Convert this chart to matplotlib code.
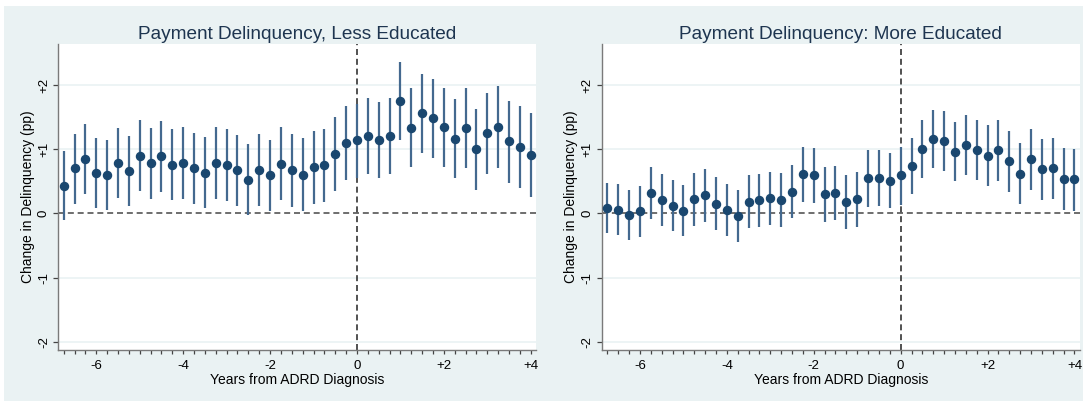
import numpy as np
import matplotlib
matplotlib.use("Agg")
import matplotlib.pyplot as plt
from matplotlib.patches import Rectangle

plt.rcParams["font.family"] = ["Liberation Sans", "DejaVu Sans"]

# event time in quarters relative to diagnosis
quarters = np.arange(-27, 17)
years = quarters / 4

less_est = [0.43, 0.70, 0.85, 0.63, 0.60, 0.78, 0.66, 0.90, 0.78, 0.89, 0.76,
            0.78, 0.70, 0.63, 0.79, 0.76, 0.67, 0.52, 0.67, 0.59, 0.77, 0.67,
            0.60, 0.72, 0.75, 0.92, 1.10, 1.14, 1.21, 1.14, 1.20, 1.75, 1.33,
            1.56, 1.48, 1.34, 1.16, 1.33, 1.00, 1.26, 1.35, 1.12, 1.04, 0.91]
less_lo = [-0.11, 0.15, 0.30, 0.09, 0.05, 0.24, 0.11, 0.35, 0.23, 0.33, 0.21,
           0.23, 0.15, 0.08, 0.23, 0.20, 0.11, -0.03, 0.11, 0.03, 0.21, 0.10,
           0.03, 0.15, 0.18, 0.35, 0.52, 0.55, 0.61, 0.55, 0.61, 1.14, 0.73,
           0.94, 0.86, 0.72, 0.55, 0.70, 0.37, 0.62, 0.71, 0.48, 0.39, 0.26]
less_hi = [0.97, 1.24, 1.40, 1.18, 1.15, 1.33, 1.21, 1.45, 1.33, 1.44, 1.31,
           1.34, 1.25, 1.19, 1.35, 1.32, 1.22, 1.08, 1.23, 1.15, 1.34, 1.23,
           1.17, 1.28, 1.31, 1.50, 1.68, 1.71, 1.80, 1.73, 1.80, 2.36, 1.95,
           2.17, 2.10, 1.96, 1.78, 1.95, 1.62, 1.88, 1.99, 1.75, 1.68, 1.56]

more_est = [0.08, 0.05, -0.03, 0.03, 0.31, 0.21, 0.12, 0.04, 0.22, 0.28, 0.15,
            0.05, -0.04, 0.18, 0.21, 0.24, 0.21, 0.34, 0.61, 0.59, 0.30, 0.31,
            0.17, 0.22, 0.55, 0.55, 0.51, 0.60, 0.74, 1.00, 1.16, 1.13, 0.96,
            1.06, 0.99, 0.89, 0.98, 0.81, 0.62, 0.84, 0.69, 0.70, 0.53, 0.53]
more_lo = [-0.31, -0.34, -0.42, -0.37, -0.09, -0.19, -0.28, -0.36, -0.19, -0.13,
           -0.26, -0.35, -0.45, -0.23, -0.21, -0.18, -0.21, -0.08, 0.18, 0.16,
           -0.13, -0.11, -0.25, -0.21, 0.10, 0.11, 0.08, 0.13, 0.30, 0.55, 0.70,
           0.66, 0.50, 0.60, 0.52, 0.42, 0.51, 0.33, 0.14, 0.36, 0.21, 0.22,
           0.05, 0.04]
more_hi = [0.47, 0.45, 0.37, 0.42, 0.72, 0.62, 0.52, 0.44, 0.63, 0.69, 0.56,
           0.46, 0.36, 0.59, 0.62, 0.65, 0.63, 0.76, 1.03, 1.02, 0.72, 0.74,
           0.59, 0.64, 0.98, 0.98, 0.94, 1.04, 1.18, 1.45, 1.61, 1.60, 1.43,
           1.54, 1.46, 1.37, 1.46, 1.28, 1.09, 1.32, 1.16, 1.18, 1.02, 1.01]

panels = [
    ("Payment Delinquency, Less Educated", less_est, less_lo, less_hi),
    ("Payment Delinquency: More Educated", more_est, more_lo, more_hi),
]

xticks = [-6, -4, -2, 0, 2, 4]
xtick_labels = ["-6", "-4", "-2", "0", "+2", "+4"]
yticks = [-2, -1, 0, 1, 2]
ytick_labels = ["-2", "-1", "0", "+1", "+2"]

W, H = 1088, 401
fig = plt.figure(figsize=(W / 100, H / 100), dpi=100, facecolor="white")

# shaded graph region behind both panels
fig.patches.append(Rectangle((4 / W, 0), (1083 - 4) / W, (H - 6) / H,
                             transform=fig.transFigure, facecolor="#eaf2f3",
                             edgecolor="none", zorder=-1))

navy = "#1a476f"
ci_color = "#44698f"
axis_color = "#7a7a7a"

lefts = [58, 601.7]
for (title, est, lo, hi), left in zip(panels, lefts):
    ax = fig.add_axes([left / W, (H - 350) / H, 478 / W, (350 - 44.3) / H])
    ax.set_facecolor("white")
    ax.set_xlim(-6.88, 4.12)
    ax.set_ylim(-2.13, 2.635)

    for y in [-2, -1, 1, 2]:
        ax.axhline(y, color="#eaf2f3", lw=1.2, zorder=1)
    ax.axhline(0, color="#555555", lw=1.2, dashes=(3.6, 2.3), zorder=2)
    ax.axvline(0, color="#333333", lw=1.2, dashes=(3.6, 2.3), zorder=2)

    ax.vlines(years, lo, hi, color=ci_color, lw=1.6, zorder=3)
    ax.plot(years, est, "o", color=navy, ms=5.8, mec=navy, zorder=4)

    for side in ["top", "right"]:
        ax.spines[side].set_visible(False)
    for side in ["left", "bottom"]:
        ax.spines[side].set_color(axis_color)
        ax.spines[side].set_linewidth(1.0)

    ax.set_xticks(xticks)
    ax.set_xticklabels(xtick_labels)
    ax.set_xticks(years, minor=True)
    ax.tick_params(axis="x", which="both", length=3.1, width=0.9,
                   color="#444444", labelsize=9.5, pad=3.8)
    ax.set_yticks(yticks)
    ax.set_yticklabels(ytick_labels, rotation=90, va="center")
    ax.tick_params(axis="y", length=3.6, width=0.9, color="#444444",
                   labelsize=9.5, pad=2.2)

    ax.set_title(title, fontsize=13.7, color="#1e3550", pad=4)
    ax.set_xlabel("Years from ADRD Diagnosis", fontsize=10, labelpad=1)
    ax.set_ylabel("Change in Delinquency (pp)", fontsize=10)
    ax.yaxis.set_label_coords(-0.049, 0.5)

fig.savefig("out.png", dpi=100, facecolor="white")
